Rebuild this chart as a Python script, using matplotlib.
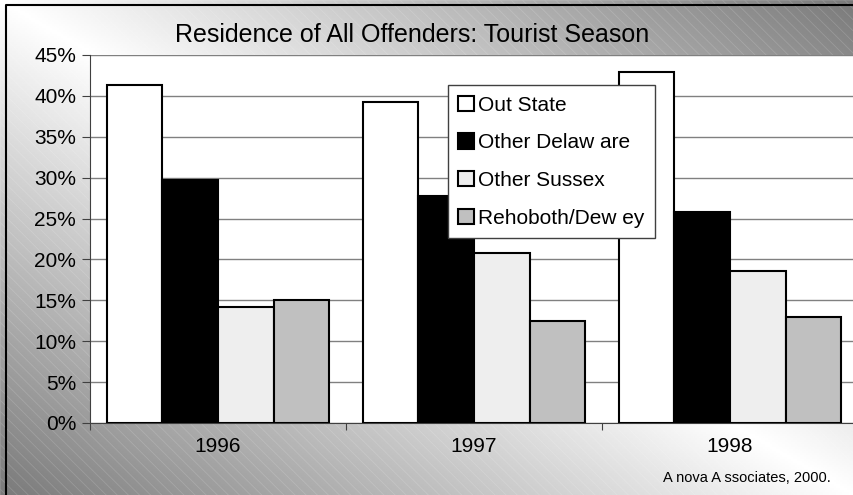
import numpy as np
import matplotlib.pyplot as plt
from matplotlib.patches import Rectangle
from matplotlib.ticker import FuncFormatter

plt.rcParams['font.family'] = ['Liberation Sans', 'DejaVu Sans']
plt.rcParams['hatch.linewidth'] = 0.6

# Data
years = ['1996', '1997', '1998']
out_state = [41.3, 39.2, 42.9]
other_delaware = [29.7, 27.7, 25.8]
other_sussex = [14.2, 20.8, 18.6]
rehoboth_dewey = [15.0, 12.5, 13.0]

series = [out_state, other_delaware, other_sussex, rehoboth_dewey]
names = ['Out State', 'Other Delaw are', 'Other Sussex', 'Rehoboth/Dew ey']
colors = ['white', 'black', '#eeeeee', '#c0c0c0']

fig = plt.figure(figsize=(8.54, 4.95), dpi=100)

# gradient background with faint diagonal stripes
bg = fig.add_axes([0, 0, 1, 1], zorder=0)
u, v = np.meshgrid(np.linspace(0, 1, 400), np.linspace(0, 1, 240))
shade = 1 - 0.52 * np.abs(u - v)
bg.imshow(shade, cmap='gray', vmin=0, vmax=1, extent=[0, 1, 0, 1],
          aspect='auto', origin='upper')
bg.add_patch(Rectangle((0, 0), 1, 1, facecolor='none', hatch='\\\\\\',
                       edgecolor=(1, 1, 1, 0.15), linewidth=0.5))
bg.plot([6 / 854, 6 / 854, 1], [0, 0.99, 0.99], color='black', lw=1.5)
bg.set_xlim(0, 1)
bg.set_ylim(0, 1)
bg.axis('off')

ax = fig.add_axes([0.1054, 0.1455, 0.8993, 0.7434], zorder=1)
ax.set_facecolor('white')

x = np.arange(len(years))
w = 0.217
for i, (vals, name, c) in enumerate(zip(series, names, colors)):
    ax.bar(x + (i - 1.5) * w, vals, w, color=c, edgecolor='black',
           linewidth=1.5, label=name, zorder=3)

ax.set_xlim(-0.5, 2.5)
ax.set_ylim(0, 45)
ax.set_yticks(np.arange(0, 46, 5))
ax.yaxis.set_major_formatter(FuncFormatter(lambda y, p: f'{y:.0f}%'))
ax.grid(axis='y', color='#808080', linewidth=1, zorder=0)

ax.set_xticks([-0.5, 0.5, 1.5, 2.5])
ax.set_xticklabels([])
ax.set_xticks(x, minor=True)
ax.set_xticklabels(years, minor=True, fontsize=15)
ax.tick_params(axis='x', which='minor', length=0, pad=10)
ax.tick_params(axis='x', which='major', length=5, color='#404040')
ax.tick_params(axis='y', labelsize=15, length=6, color='#404040', pad=4)

for s in ['top', 'right']:
    ax.spines[s].set_visible(False)
ax.spines['left'].set_color('#404040')
ax.spines['bottom'].set_color('#404040')

leg = ax.legend(loc='upper left', bbox_to_anchor=(0.466, 0.918), fontsize=15,
                fancybox=False, framealpha=1, edgecolor='#404040',
                handlelength=0.75, handleheight=0.75, handletextpad=0.2,
                labelspacing=0.9, borderpad=0.5, borderaxespad=0)
leg.set_zorder(5)

fig.text(0.482, 0.929, 'Residence of All Offenders: Tourist Season',
         ha='center', va='center', fontsize=18)
fig.text(0.973, 0.034, 'A nova A ssociates, 2000.', ha='right', va='center',
         fontsize=10.5)

fig.savefig('out.png', dpi=100)
